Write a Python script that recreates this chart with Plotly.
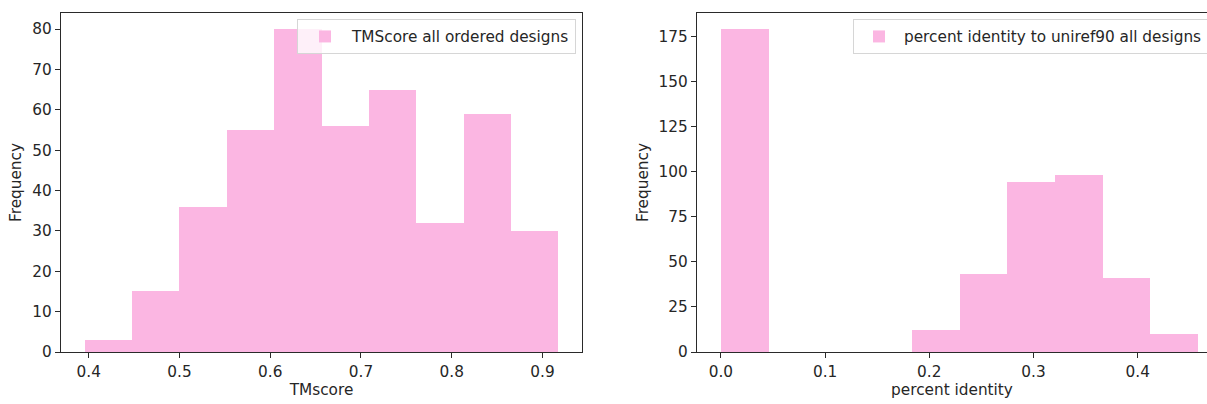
import numpy as np
import plotly.graph_objects as go

# TM-score histogram (10 equal bins)
tm_range = [0.3955, 0.9175]
tm_counts = [3, 15, 36, 55, 80, 56, 65, 32, 59, 30]

# Percent identity to UniRef90 histogram (10 equal bins)
pid_range = [0.0, 0.458]
pid_counts = [179, 0, 0, 0, 12, 43, 94, 98, 41, 10]

tm_ticks = [0.4, 0.5, 0.6, 0.7, 0.8, 0.9]
tm_yticks = [0, 10, 20, 30, 40, 50, 60, 70, 80]
pid_ticks = [0.0, 0.1, 0.2, 0.3, 0.4]
pid_yticks = [0, 25, 50, 75, 100, 125, 150, 175]

PINK = "rgb(251,182,226)"
FONT = "DejaVu Sans"
FS = 15.3
W, H = 1207, 404


def bins(rng, counts):
    edges = np.linspace(rng[0], rng[1], len(counts) + 1)
    centers = (edges[:-1] + edges[1:]) / 2
    widths = np.diff(edges)
    return edges, centers, widths


tm_edges, tm_c, tm_w = bins(tm_range, tm_counts)
pid_edges, pid_c, pid_w = bins(pid_range, pid_counts)

fig = go.Figure()
fig.add_trace(go.Bar(x=tm_c, y=tm_counts, width=tm_w, marker=dict(color=PINK, line=dict(width=0)),
                     name="TMScore all ordered designs", xaxis="x", yaxis="y", legend="legend"))
fig.add_trace(go.Bar(x=pid_c, y=pid_counts, width=pid_w, marker=dict(color=PINK, line=dict(width=0)),
                     name="percent identity to uniref90 all designs", xaxis="x2", yaxis="y2",
                     legend="legend2"))


def padded(lo, hi, frac=0.05):
    span = hi - lo
    return [lo - frac * span, hi + frac * span]


# pixel geometry of the two axes boxes
yd = [1 - 352 / H, 1 - 13 / H]
tm_xr = padded(tm_edges[0], tm_edges[-1])
pid_xr = padded(pid_edges[0], pid_edges[-1])
# the right panel runs past the page edge, so its visible range is clipped
pid_left_px, pid_right_px_full = 697.0, 697.0 + 525.0
pid_visible_hi = pid_xr[0] + (pid_xr[1] - pid_xr[0]) * (W - pid_left_px) / (pid_right_px_full - pid_left_px)

axis_common = dict(showgrid=False, zeroline=False, showline=True, linecolor="#2a2a2a", linewidth=1.3,
                   ticks="outside", ticklen=5, tickwidth=1.3, tickcolor="#2a2a2a",
                   tickfont=dict(family=FONT, size=FS, color="#262626"))

fig.update_layout(
    width=W, height=H,
    margin=dict(l=0, r=0, t=0, b=0, autoexpand=False),
    paper_bgcolor="white", plot_bgcolor="white",
    bargap=0,
    font=dict(family=FONT, size=FS, color="#262626"),
    xaxis=dict(domain=[61 / W, 582 / W], range=tm_xr, tickvals=tm_ticks,
               ticktext=[f"{v:.1f}" for v in tm_ticks], mirror=True, anchor="y",
               title=dict(text="TMscore", font=dict(family=FONT, size=FS), standoff=3), **axis_common),
    yaxis=dict(domain=yd, range=[0, max(tm_counts) * 1.05], tickvals=tm_yticks, mirror=True, anchor="x",
               title=dict(text="Frequency", font=dict(family=FONT, size=FS), standoff=6), **axis_common),
    xaxis2=dict(domain=[pid_left_px / W, 1.0], range=[pid_xr[0], pid_visible_hi], tickvals=pid_ticks,
                ticktext=[f"{v:.1f}" for v in pid_ticks], mirror=True, anchor="y2",
                title=dict(text="percent identity", font=dict(family=FONT, size=FS), standoff=3),
                **axis_common),
    yaxis2=dict(domain=yd, range=[0, max(pid_counts) * 1.05], tickvals=pid_yticks, mirror=False,
                anchor="x2",
                title=dict(text="Frequency", font=dict(family=FONT, size=FS), standoff=6), **axis_common),
    legend=dict(x=576 / W, xanchor="right", y=1 - 19 / H, yanchor="top",
                bgcolor="rgba(255,255,255,0.8)", bordercolor="#d6d6d6", borderwidth=1,
                font=dict(family=FONT, size=FS, color="#262626"), itemwidth=44,
                tracegroupgap=0),
    legend2=dict(x=853 / W, xanchor="left", y=1 - 19 / H, yanchor="top",
                 bgcolor="rgba(255,255,255,0.8)", bordercolor="#d6d6d6", borderwidth=1,
                 font=dict(family=FONT, size=FS, color="#262626"), itemwidth=40,
                 tracegroupgap=0),
    showlegend=True,
)

fig.write_html("out.html")
